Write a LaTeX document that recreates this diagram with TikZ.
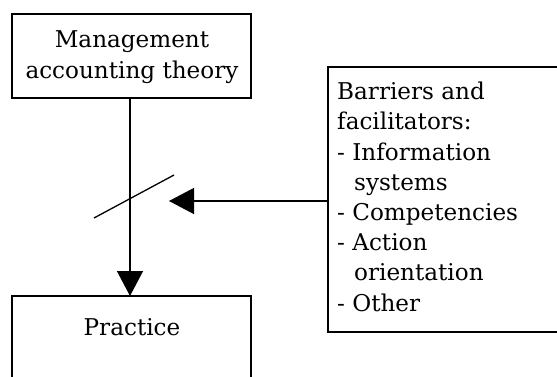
\documentclass[tikz,border=0pt]{standalone}
\usepackage{fontspec}
\setmainfont{DejaVu Serif}
\usetikzlibrary{arrows.meta}
\begin{document}
\begin{tikzpicture}[x=1bp,y=1bp,
  box/.style={draw, line width=1.4bp, inner sep=0pt, rectangle},
  txt/.style={font=\fontsize{23.2}{28}\selectfont, inner sep=0pt, anchor=base},
  ltxt/.style={txt, anchor=base west},
  conn/.style={line width=1.3bp},
  tri/.style={-{Triangle[length=25bp,width=26bp]}}
]
\useasboundingbox (0,0) rectangle (557,376);
\clip (0,0) rectangle (557,376);
% boxes (y measured from top: y_tikz = 376 - y)
\node[box, minimum width=239bp, minimum height=84bp] (theory) at (131.5,320) {};
\node[box, minimum width=239bp, minimum height=120bp] (practice) at (131.5,20) {};
\node[box, minimum width=260bp, minimum height=265bp] (barriers) at (458,176.5) {};
% texts
\node[txt] (t1) at (132,329) {Management};
\node[txt] (t2) at (132,298) {accounting theory};
\node[txt] (t3) at (132,41) {Practice};
\node[ltxt] (b1) at (337,277) {Barriers and};
\node[ltxt] (b2) at (337,247) {facilitators:};
\node[ltxt] (b3) at (337,216) {- Information};
\node[ltxt] (b4) at (354,186) {systems};
\node[ltxt] (b5) at (337,156) {- Competencies};
\node[ltxt] (b6) at (337,126) {- Action};
\node[ltxt] (b7) at (354,96) {orientation};
\node[ltxt] (b8) at (337,65) {- Other};
% connectors
\coordinate (vtop) at (130,278);
\coordinate (vbot) at (130,80);
\draw[conn, tri] (vtop) -- (vbot);
\coordinate (hstart) at (328,175);
\coordinate (hend) at (169,175);
\draw[conn, tri] (hstart) -- (hend);
\coordinate (s1) at (94,158);
\coordinate (s2) at (174,201);
\draw[conn] (s1) -- (s2);
\end{tikzpicture}
\end{document}
